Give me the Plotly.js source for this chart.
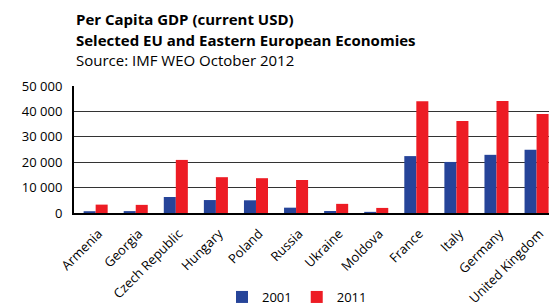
<!DOCTYPE html>
<html><head><meta charset="utf-8">
<script src="https://cdn.plot.ly/plotly-3.0.1.min.js"></script>
<style>body{margin:0;padding:0;background:#fff}#chart{width:549px;height:307px}</style>
</head><body><div id="chart"></div>
<script>
const categories = ["Armenia","Georgia","Czech Republic","Hungary","Poland","Russia","Ukraine","Moldova","France","Italy","Germany","United Kingdom"];
const gdp2001 = [700, 750, 6300, 5100, 5000, 2100, 800, 450, 22400, 20100, 22900, 24900];
const gdp2011 = [3300, 3200, 20900, 14100, 13700, 13000, 3600, 2000, 44000, 36200, 44100, 39000];
const yTicks = [0, 10000, 20000, 30000, 40000, 50000];
const titleLines = ["<b>Per Capita GDP (current USD)</b>", "<b>Selected EU and Eastern European Economies</b>", "Source: IMF WEO October 2012"];

const W = 549, H = 307, M = {l:74, r:0, t:86, b:94};
const plotH = H - M.t - M.b;
const pyToPaper = py => 1 + (M.t - py) / plotH;

const font = "Open Sans, Noto Sans, sans-serif";
const data = [
  {type:"bar", name:"2001", x:categories, y:gdp2001, marker:{color:"#264499"}},
  {type:"bar", name:"2011", x:categories, y:gdp2011, marker:{color:"#ED1C24"}}
];
const titleY = [19, 40, 60];
const layout = {
  width:W, height:H,
  margin:M,
  paper_bgcolor:"#fff", plot_bgcolor:"#fff",
  separators:". ",
  font:{family:font, color:"#000", size:12},
  annotations: titleLines.map((t, i) => ({
    text:t, xref:"paper", yref:"paper", x:0, y:pyToPaper(titleY[i]), xanchor:"left", yanchor:"middle",
    showarrow:false, font:{family:font, size:15, color:"#000"}
  })),
  barmode:"group", bargap:0.4, bargroupgap:0,
  xaxis:{type:"category", range:[-0.54, 11.31], tickangle:-45, showline:true, linecolor:"#000", linewidth:2,
         ticks:"", showgrid:false, tickfont:{size:13, family:font}, ticklabelshift:3, ticklabelstandoff:6},
  yaxis:{range:[0, 50000], tickvals:yTicks, tickformat:",d", showline:true, linecolor:"#000", linewidth:2,
         showgrid:true, gridcolor:"#333", gridwidth:1.3, zeroline:false, ticks:"", ticklen:0,
         ticklabelstandoff:7, tickfont:{size:13, family:font}},
  showlegend:true,
  legend:{orientation:"h", x:222/W, xref:"container", xanchor:"left", y:1-282/H, yref:"container", yanchor:"top",
          font:{size:13, family:font}, tracegroupgap:0}
};
Plotly.newPlot("chart", data, layout, {displayModeBar:false, staticPlot:true});
</script></body></html>
